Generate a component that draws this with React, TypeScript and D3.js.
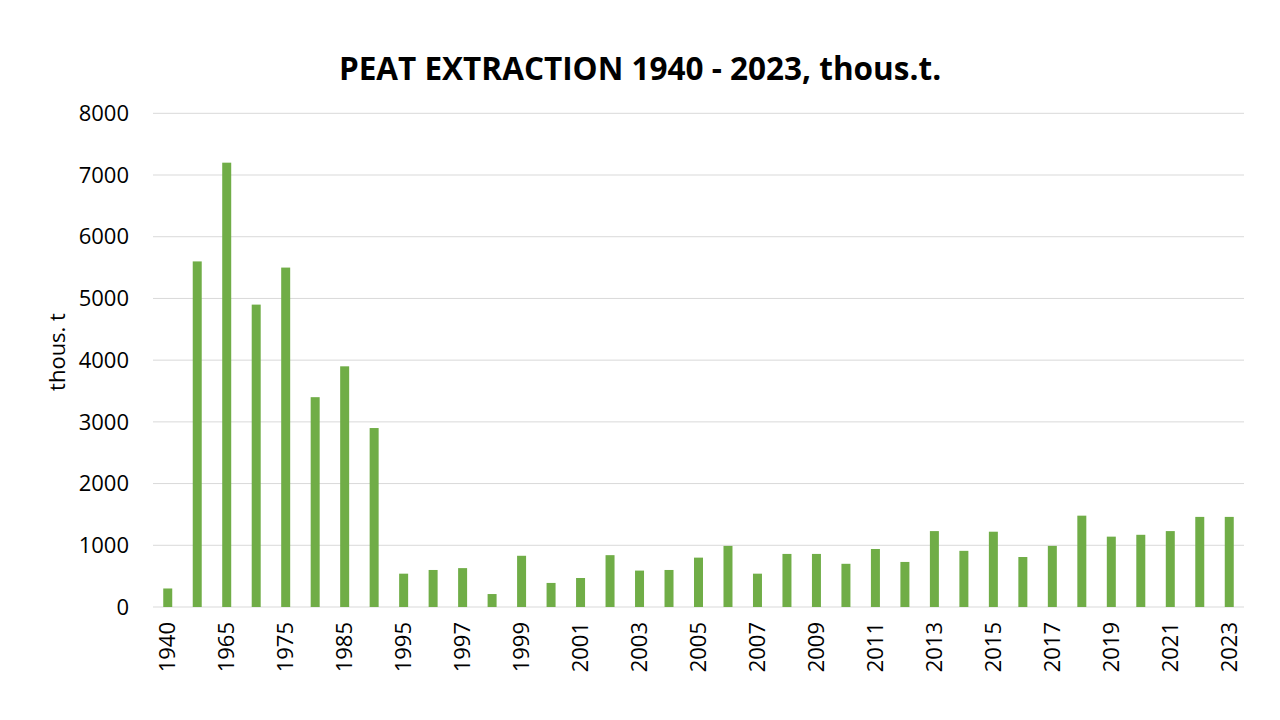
import React from "react";
import * as d3 from "d3";

const years = [
  "1940", "1960", "1965", "1970", "1975", "1980", "1985", "1990",
  "1995", "1996", "1997", "1998", "1999", "2000", "2001", "2002", "2003", "2004", "2005", "2006",
  "2007", "2008", "2009", "2010", "2011", "2012", "2013", "2014", "2015", "2016", "2017", "2018",
  "2019", "2020", "2021", "2022", "2023",
];
const extraction = [
  300, 5600, 7200, 4900, 5500, 3400, 3900, 2900,
  540, 600, 630, 210, 830, 390, 470, 840, 590, 600, 800, 990,
  540, 860, 860, 700, 940, 730, 1230, 910, 1220, 810, 990, 1480,
  1140, 1170, 1230, 1460, 1460,
];
const yTicks = [0, 1000, 2000, 3000, 4000, 5000, 6000, 7000, 8000];

const W = 1280;
const H = 720;
const left = 153;
const right = 1244;
const top = 113.3;
const bottom = 607;
const FONT = "'Open Sans', sans-serif";

export default function App() {
  const x = d3.scaleBand<string>().domain(years).range([left, right]).paddingInner(0.695).paddingOuter(0.3475);
  const y = d3.scaleLinear().domain([0, 8000]).range([bottom, top]);

  return (
    <svg width={W} height={H} style={{ position: "absolute", left: 0, top: 0, background: "#fff" }} fontFamily={FONT}>
      <rect x={0} y={0} width={W} height={H} fill="#fff" />
      <text x={640} y={80} textAnchor="middle" fontSize={31.5} fontWeight="bold" fill="#000">
        PEAT EXTRACTION 1940 - 2023, thous.t.
      </text>
      {yTicks.map((t) => (
        <g key={t}>
          <line x1={left} x2={right} y1={y(t)} y2={y(t)} stroke="#d9d9d9" strokeWidth={1} />
          <text x={129} y={y(t)} dy="0.35em" textAnchor="end" fontSize={22} fill="#000">
            {t}
          </text>
        </g>
      ))}
      {extraction.map((v, i) => (
        <rect key={years[i]} x={x(years[i])} y={y(v)} width={x.bandwidth()} height={y(0) - y(v)} fill="#70AD47" />
      ))}
      {years.map((yr, i) =>
        i % 2 === 0 ? (
          <text
            key={yr}
            transform={`translate(${(x(yr) as number) + x.bandwidth() / 2},622) rotate(-90)`}
            textAnchor="end"
            dy="0.35em"
            fontSize={22}
            fill="#000"
          >
            {yr}
          </text>
        ) : null
      )}
      <text transform={`translate(57,352) rotate(-90)`} textAnchor="middle" dy="0.35em" fontSize={22} fill="#000">
        thous. t
      </text>
    </svg>
  );
}
